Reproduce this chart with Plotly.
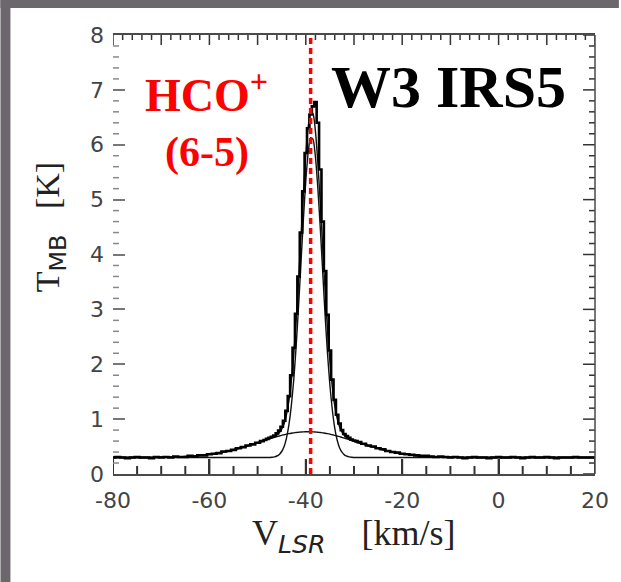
import plotly.graph_objects as go

# ---------------- data ----------------
V_OBS = [-80, -79, -78, -77, -76, -75, -74, -73, -72, -71, -70, -69, -68, -67, -66, -65,
         -64, -63, -62, -61, -60, -59, -58, -57, -56, -55, -54, -53, -52, -51, -50, -49,
         -48.5, -48, -47.5, -47, -46.5, -46, -45.5, -45, -44.5, -44, -43.5, -43, -42.5, -42,
         -41.5, -41, -40.5, -40, -39.5, -39, -38.5, -38, -37.5, -37, -36.5, -36, -35.5, -35,
         -34.5, -34, -33.5, -33, -32.5, -32, -31.5, -31, -30.5, -30, -29.5, -29,
         -28, -27, -26, -25, -24, -23, -22, -21, -20, -19, -18, -17, -16, -15, -14, -13,
         -12, -11, -10, -9, -8, -7, -6, -5, -4, -3, -2, -1, 0, 1, 2, 3, 4, 5, 6, 7, 8, 9,
         10, 11, 12, 13, 14, 15, 16, 17, 18, 19, 20]
T_OBS = [0.30, 0.31, 0.30, 0.29, 0.30, 0.31, 0.30, 0.30, 0.29, 0.31, 0.30, 0.31, 0.30, 0.32, 0.31, 0.31,
         0.33, 0.32, 0.34, 0.34, 0.36, 0.37, 0.38, 0.41, 0.42, 0.44, 0.47, 0.49, 0.52, 0.54, 0.57, 0.60,
         0.62, 0.64, 0.66, 0.68, 0.70, 0.74, 0.79, 0.86, 0.97, 1.15, 1.42, 1.80, 2.30, 2.92,
         3.60, 4.40, 5.15, 5.85, 6.30, 6.55, 6.70, 6.78, 6.40, 5.55, 4.60, 3.70, 2.90, 2.25,
         1.72, 1.35, 1.08, 0.92, 0.80, 0.73, 0.69, 0.66, 0.63, 0.61, 0.60, 0.58,
         0.55, 0.52, 0.50, 0.47, 0.45, 0.42, 0.40, 0.39, 0.37, 0.36, 0.35, 0.34, 0.33, 0.33, 0.32, 0.31,
         0.32, 0.31, 0.30, 0.31, 0.30, 0.29, 0.30, 0.31, 0.30, 0.30, 0.29, 0.30, 0.31, 0.30, 0.30, 0.31, 0.30, 0.29, 0.30, 0.31, 0.30, 0.30,
         0.31, 0.30, 0.29, 0.30, 0.30, 0.30, 0.31, 0.30, 0.30, 0.30, 0.30]

V_FIT = [-80, -76, -72, -68, -64, -60, -57, -54, -52, -50, -48, -47, -46.5, -46, -45.5, -45,
         -44.5, -44, -43.5, -43, -42.5, -42, -41.5, -41, -40.5, -40, -39.5, -39, -38.5, -38,
         -37.5, -37, -36.5, -36, -35.5, -35, -34.5, -34, -33.5, -33, -32.5, -32, -31.5, -31,
         -30.5, -30, -29, -28, -26, -24, -21, -18, -15, -12, -8, -4, 0, 5, 10, 15, 20]
T_NARROW = [0.300, 0.300, 0.300, 0.300, 0.300, 0.300, 0.300, 0.300, 0.300, 0.300, 0.300, 0.306, 0.313, 0.328, 0.357, 0.41,
            0.50, 0.66, 0.90, 1.25, 1.72, 2.33, 3.06, 3.85, 4.64, 5.34, 5.86, 6.13, 6.10, 5.78,
            5.21, 4.49, 3.69, 2.90, 2.20, 1.62, 1.17, 0.84, 0.62, 0.48, 0.397, 0.349, 0.324, 0.311,
            0.305, 0.300, 0.300, 0.300, 0.300, 0.300, 0.300, 0.300, 0.300, 0.300, 0.300, 0.300, 0.300, 0.300, 0.300, 0.300, 0.300]
T_BROAD = [0.300, 0.301, 0.302, 0.308, 0.323, 0.358, 0.402, 0.464, 0.515, 0.570, 0.626, 0.654, 0.668, 0.680, 0.693, 0.705,
           0.715, 0.726, 0.735, 0.743, 0.750, 0.756, 0.761, 0.765, 0.768, 0.770, 0.770, 0.770, 0.768, 0.765,
           0.761, 0.756, 0.750, 0.743, 0.735, 0.726, 0.715, 0.705, 0.693, 0.680, 0.668, 0.654, 0.641, 0.626,
           0.612, 0.598, 0.570, 0.542, 0.489, 0.442, 0.385, 0.347, 0.323, 0.311, 0.303, 0.301, 0.300, 0.300, 0.300, 0.300, 0.300]
T_TOTAL = [0.300, 0.301, 0.302, 0.308, 0.323, 0.358, 0.402, 0.464, 0.515, 0.570, 0.626, 0.660, 0.681, 0.708, 0.750, 0.815,
           0.915, 1.086, 1.335, 1.693, 2.170, 2.786, 3.521, 4.315, 5.108, 5.810, 6.330, 6.600, 6.568, 6.245,
           5.671, 4.946, 4.140, 3.343, 2.635, 2.046, 1.585, 1.245, 1.013, 0.860, 0.765, 0.703, 0.665, 0.637,
           0.617, 0.598, 0.570, 0.542, 0.489, 0.442, 0.385, 0.347, 0.323, 0.311, 0.303, 0.301, 0.300, 0.300, 0.300, 0.300, 0.300]

V_SYS = -39.0
T_RANGE = [0, 8]
V_RANGE = [-80, 20]
X_TICKS = [-80, -60, -40, -20, 0, 20]
X_TICK_TEXT = ["-80", "-60", "-40", "-20", "0", "20"]
Y_TICKS = [0, 1, 2, 3, 4, 5, 6, 7, 8]
Y_TICK_TEXT = ["0", "1", "2", "3", "4", "5", "6", "7", "8"]
X_MINOR_STEP = 5
X_TOP_MAJOR_STEP = 10
X_TOP_MINOR_STEP = 2
Y_MINOR_STEP = 0.2

# ---------------- layout geometry (pixels) ----------------
W, H = 621, 582
L, R, T, B = 113, 24, 35, 108
PW, PH = W - L - R, H - T - B


def px(x):
    return (x - L) / PW


def py(y):
    return (H - B - y) / PH


def steps(lo, hi, step, skip=None):
    n = int(round((hi - lo) / step))
    vals = [round(lo + i * step, 4) for i in range(n + 1)]
    if skip:
        vals = [v for v in vals if abs(v / skip - round(v / skip)) > 1e-6]
    return vals


fig = go.Figure()

tick_col = "#333333"
x_minor = steps(V_RANGE[0], V_RANGE[1], X_MINOR_STEP, skip=20)
x_top_major = steps(V_RANGE[0], V_RANGE[1], X_TOP_MAJOR_STEP)
x_top_minor = steps(V_RANGE[0], V_RANGE[1], X_TOP_MINOR_STEP, skip=X_TOP_MAJOR_STEP)
y_minor = steps(T_RANGE[0], T_RANGE[1], Y_MINOR_STEP, skip=1)


# tick marks drawn as short line segments from the frame inwards (via the axes' scales)
def tick_segments(positions, edge, length_frac, vertical):
    xs, ys = [], []
    for p in positions:
        if vertical:
            inward = length_frac * (T_RANGE[1] - T_RANGE[0]) * (1 if edge == T_RANGE[0] else -1)
            xs += [p, p, None]
            ys += [edge, edge + inward, None]
        else:
            inward = length_frac * (V_RANGE[1] - V_RANGE[0]) * (1 if edge == V_RANGE[0] else -1)
            xs += [edge, edge + inward, None]
            ys += [p, p, None]
    return xs, ys


def add_ticks(positions, edge, len_px, vertical, color, width):
    frac = len_px / (PH if vertical else PW)
    xs, ys = tick_segments(positions, edge, frac, vertical)
    fig.add_trace(go.Scatter(x=xs, y=ys, mode="lines", line=dict(color=color, width=width),
                             showlegend=False, hoverinfo="skip", connectgaps=False,
                             cliponaxis=False))


add_ticks(X_TICKS, T_RANGE[0], 15, True, tick_col, 2)
add_ticks(x_minor, T_RANGE[0], 8, True, tick_col, 2)
add_ticks(x_top_major, T_RANGE[1], 10, True, tick_col, 1.5)
add_ticks(x_top_minor, T_RANGE[1], 5, True, tick_col, 1.5)
add_ticks(y_minor, V_RANGE[0], 6, False, "#888888", 1.5)
add_ticks(y_minor, V_RANGE[1], 6, False, tick_col, 1.5)
add_ticks(Y_TICKS, V_RANGE[1], 12, False, tick_col, 1.5)

fit_line = dict(color="#111111", width=1.4, shape="spline", smoothing=0.6)
fig.add_trace(go.Scatter(x=V_FIT, y=T_BROAD, mode="lines", line=fit_line, showlegend=False))
fig.add_trace(go.Scatter(x=V_FIT, y=T_NARROW, mode="lines", line=fit_line, showlegend=False))
fig.add_trace(go.Scatter(x=V_FIT, y=T_TOTAL, mode="lines", line=fit_line, showlegend=False))
fig.add_trace(go.Scatter(x=V_OBS, y=T_OBS, mode="lines",
                         line=dict(color="#000000", width=2.6, shape="hvh"), showlegend=False))
fig.add_trace(go.Scatter(x=[V_SYS, V_SYS], y=T_RANGE, mode="lines",
                         line=dict(color="#ff0000", width=3.5, dash="6px,4px"), showlegend=False))

tick_font = dict(family="DejaVu Sans", size=22, color="#444444")
axis_col = "#4a4a4a"

fig.update_layout(
    width=W, height=H,
    margin=dict(l=L, r=R, t=T, b=B, pad=0),
    paper_bgcolor="white", plot_bgcolor="white",
    xaxis=dict(range=V_RANGE, showgrid=False, zeroline=False, showline=True, mirror=True,
               linecolor=axis_col, linewidth=1.5, ticks="inside", ticklen=15, tickwidth=2,
               tickcolor=tick_col, tickmode="array",
               tickvals=X_TICKS, ticktext=X_TICK_TEXT, tickfont=tick_font, ticklabelstandoff=6),
    yaxis=dict(range=T_RANGE, showgrid=False, zeroline=False, showline=False,
               ticks="inside", tickmode="array", tickvals=Y_TICKS, ticktext=Y_TICK_TEXT,
               ticklen=12, tickwidth=1.5, tickcolor="#777777",
               tickfont=tick_font, ticklabelstandoff=8),
    shapes=[dict(type="line", xref="paper", yref="paper", x0=1, x1=1, y0=0, y1=1,
                 line=dict(color=axis_col, width=1.5))],
)

serif = "Liberation Serif"
fig.add_annotation(xref="paper", yref="paper", x=px(207), y=py(92), xanchor="center", yanchor="middle",
                   text="<b>HCO<sup>+</sup></b>", showarrow=False,
                   font=dict(family=serif, size=46, color="#ff0000"))
fig.add_annotation(xref="paper", yref="paper", x=px(207), y=py(152), xanchor="center", yanchor="middle",
                   text="<b>(6-5)</b>", showarrow=False,
                   font=dict(family=serif, size=42, color="#ff0000"))
fig.add_annotation(xref="paper", yref="paper", x=px(450), y=py(87), xanchor="center", yanchor="middle",
                   text="<b>W3 IRS5</b>", showarrow=False,
                   font=dict(family=serif, size=60, color="#000000"))
fig.add_annotation(xref="paper", yref="paper", x=px(355), y=py(536), xanchor="center", yanchor="middle",
                   text='V<sub><span style="font-family:DejaVu Sans"><i>LSR</i></span></sub>'
                        '&nbsp;&nbsp;&nbsp;&nbsp;[km/s]',
                   showarrow=False, font=dict(family=serif, size=36, color="#222222"))
fig.add_annotation(xref="paper", yref="paper", x=px(50), y=py(227), xanchor="center", yanchor="middle",
                   textangle=-90,
                   text='T<sub><span style="font-family:DejaVu Sans">MB</span></sub>&nbsp;&nbsp;&nbsp;[K]',
                   showarrow=False, font=dict(family=serif, size=34, color="#222222"))

# gray frame strips (top and left)
frame = "#6b676c"
fig.add_shape(type="rect", xref="paper", yref="paper", x0=px(0), x1=px(W), y0=py(8), y1=py(0),
              fillcolor=frame, line=dict(width=0), layer="above")
fig.add_shape(type="rect", xref="paper", yref="paper", x0=px(0), x1=px(10), y0=py(H), y1=py(0),
              fillcolor=frame, line=dict(width=0), layer="above")

fig.write_html("out.html")
